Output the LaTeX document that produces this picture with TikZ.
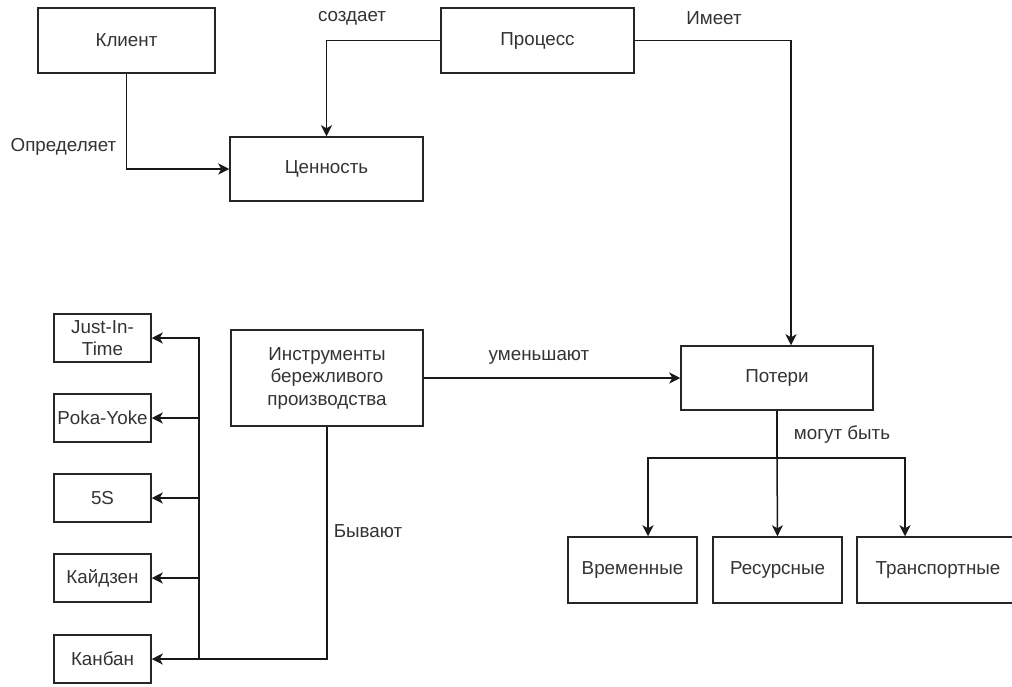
\documentclass[tikz,border=0pt]{standalone}
\usepackage{fontspec}
\setmainfont{Liberation Sans}
\usetikzlibrary{arrows.meta}
\begin{document}
\begin{tikzpicture}[x=1pt,y=-1pt,
  every node/.style={font=\fontsize{18.8}{22.5}\selectfont, text=black!80},
  box/.style={draw=black!85, line width=1.5pt, rectangle, inner sep=0pt, align=center},
  lbl/.style={inner sep=0pt},
  conn/.style={draw=black!90, line width=1.5pt},
  arr/.style={conn, -{Stealth[length=11pt,width=11pt,inset=3pt]}}]
\useasboundingbox (0,0) rectangle (1012,686);
% main boxes
\node[box, minimum width=177pt, minimum height=65pt] (kl) at (126.5,40.5) {Клиент};
\node[box, minimum width=193pt, minimum height=65pt] (pr) at (537.5,40.5) {Процесс};
\node[box, minimum width=193pt, minimum height=64pt] (cen) at (326.5,169) {Ценность};
\node[box, minimum width=192pt, minimum height=96pt] (ins) at (327,378) {Инструменты\\бережливого\\производства};
\node[box, minimum width=192pt, minimum height=64pt] (pot) at (777,378) {Потери};
% tools
\node[box, minimum width=97pt, minimum height=48pt] (jit) at (102.5,338) {Just-In-\\Time};
\node[box, minimum width=97pt, minimum height=48pt] (poka) at (102.5,418) {Poka-Yoke};
\node[box, minimum width=97pt, minimum height=48pt] (fives) at (102.5,498) {5S};
\node[box, minimum width=97pt, minimum height=48pt] (kai) at (102.5,578) {Кайдзен};
\node[box, minimum width=97pt, minimum height=48pt] (kan) at (102.5,659) {Канбан};
% loss types
\node[box, minimum width=129pt, minimum height=66pt] (vr) at (632.5,570) {Временные};
\node[box, minimum width=129pt, minimum height=66pt] (res) at (777.5,570) {Ресурсные};
\node[box, minimum width=162pt, minimum height=66pt] (tr) at (938,570) {Транспортные};
% labels
\node[lbl] (lopr) at (63.5,147) {Определяет};
\node[lbl] (lsoz) at (352,18) {создает};
\node[lbl] (lim) at (714,18) {Имеет};
\node[lbl] (lum) at (539,357) {уменьшают};
\node[lbl] (lbyv) at (368,531) {Бывают};
\node[lbl] (lmog) at (842,435) {могут быть};
% connectors
\draw[arr] (kl.south) |- (cen.west);
\draw[arr] (pr.west) -| (cen.north);
\draw[arr] (pr.east) -| ([xshift=14pt]pot.north);
\draw[arr] (ins.east) -- (pot.west);
\draw[arr] (ins.south) |- (kan.east);
\coordinate (trunk) at (199,659);
\draw[arr] (trunk) |- (jit.east);
\draw[arr] (trunk) |- (poka.east);
\draw[arr] (trunk) |- (fives.east);
\draw[arr] (trunk) |- (kai.east);
\coordinate (jn) at (777,458);
\draw[conn, line width=2.3pt] (pot.south) -- (jn);
\draw[arr] (jn) -| ([xshift=15.5pt]vr.north);
\draw[arr] (jn) -- (res.north);
\draw[arr] (jn) -| ([xshift=-33pt]tr.north);
\end{tikzpicture}
\end{document}
